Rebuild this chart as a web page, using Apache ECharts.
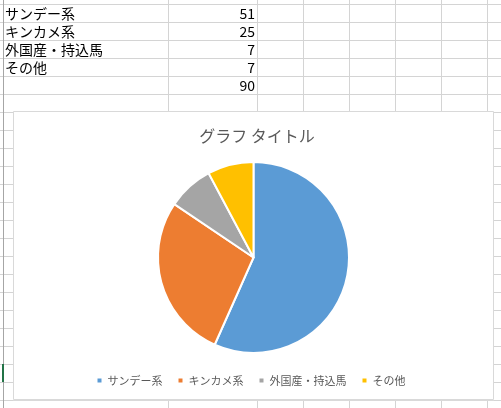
<!DOCTYPE html>
<html><head><meta charset="utf-8">
<script src="https://cdn.jsdelivr.net/npm/echarts@6/dist/echarts.min.js"></script>
<style>html,body{margin:0;padding:0;background:#fff}#c{width:501px;height:408px}</style>
</head><body><div id="c"></div>
<script>
const categories = ['サンデー系', 'キンカメ系', '外国産・持込馬', 'その他'];
const values = [51, 25, 7, 7];
const total = 90;
const colors = ['#5B9BD5', '#ED7D31', '#A5A5A5', '#FFC000'];
const chartTitle = 'グラフ タイトル';

const chart = echarts.init(document.getElementById('c'), null, {width: 501, height: 408, renderer: 'canvas'});
const g = [];
const gridColor = '#d4d4d4';
// spreadsheet row lines
for (let k = 0; k <= 22; k++) {
  const y = 4 + 18 * k + 0.5;
  g.push({type: 'line', z: -10, shape: {x1: 0, y1: y, x2: 501, y2: y}, style: {stroke: gridColor, lineWidth: 1}});
}
[168, 257, 303, 349, 395, 441, 487].forEach(x => {
  g.push({type: 'line', z: -10, shape: {x1: x + 0.5, y1: 0, x2: x + 0.5, y2: 408}, style: {stroke: gridColor, lineWidth: 1}});
});
g.push({type: 'line', z: -9, shape: {x1: 3.5, y1: 0, x2: 3.5, y2: 408}, style: {stroke: '#a6a6a6', lineWidth: 1}});
g.push({type: 'rect', z: -9, shape: {x: 2, y: 364, width: 2, height: 18}, style: {fill: '#217346'}});
// table cells
const rowsLabels = categories.concat(['']);
const rowsValues = values.concat([total]);
rowsLabels.forEach((t, i) => {
  const cy = 14 + 18 * i;
  if (t) g.push({type: 'text', z: -8, style: {text: t, x: 5, y: cy, font: '14px "Noto Sans CJK JP"', fill: '#000', textVerticalAlign: 'middle', textAlign: 'left'}});
  g.push({type: 'text', z: -8, style: {text: String(rowsValues[i]), x: 255, y: cy, font: '14px "Noto Sans CJK JP"', fill: '#000', textVerticalAlign: 'middle', textAlign: 'right'}});
});
// chart area box
g.push({type: 'rect', z: -5, shape: {x: 13.5, y: 111.5, width: 480, height: 288}, style: {fill: '#fff', stroke: '#d9d9d9', lineWidth: 1}});
g.push({type: 'line', z: -5, shape: {x1: 13, y1: 400.5, x2: 494, y2: 400.5}, style: {stroke: '#d9d9d9', lineWidth: 1}});

chart.setOption({
  animation: false,
  title: {text: chartTitle, left: 252, top: 123, textAlign: 'center',
    textStyle: {fontFamily: 'Noto Sans CJK JP', fontSize: 16, fontWeight: 'normal', color: '#595959'}},
  legend: {
    data: categories, left: 'center', top: 370, icon: 'rect', itemWidth: 6, itemHeight: 6, itemGap: 14,
    textStyle: {fontFamily: 'Noto Sans CJK JP', fontSize: 11, color: '#595959'}
  },
  graphic: g,
  series: [{
    type: 'pie', center: [253.5, 257.5], radius: 95.5, startAngle: 90, clockwise: true,
    label: {show: false}, labelLine: {show: false}, emphasis: {disabled: true},
    itemStyle: {borderColor: '#fff', borderWidth: 2},
    data: categories.map((c, i) => ({name: c, value: values[i], itemStyle: {color: colors[i]}}))
  }]
});
</script></body></html>
